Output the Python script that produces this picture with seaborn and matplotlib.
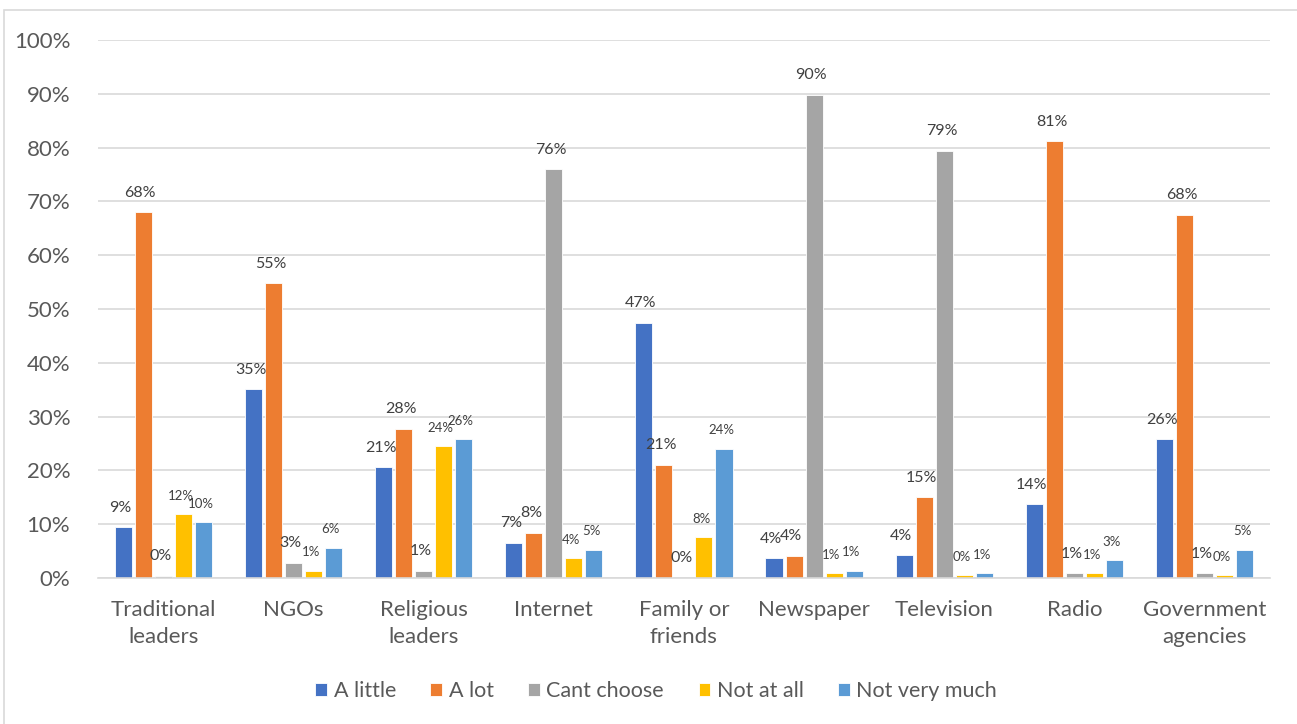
import pandas as pd
import matplotlib.pyplot as plt
import seaborn as sns
from matplotlib.patches import Rectangle

categories = ["Traditional\nleaders", "NGOs", "Religious\nleaders", "Internet",
              "Family or\nfriends", "Newspaper", "Television", "Radio",
              "Government\nagencies"]
series = ["A little", "A lot", "Cant choose", "Not at all", "Not very much"]

a_little = [9.4, 35.1, 20.6, 6.5, 47.4, 3.7, 4.2, 13.7, 25.8]
a_lot = [68.0, 54.8, 27.7, 8.4, 21.0, 4.1, 15.0, 81.2, 67.5]
cant_choose = [0.4, 2.8, 1.3, 76.0, 0.0, 89.8, 79.4, 0.9, 0.9]
not_at_all = [11.8, 1.3, 24.5, 3.7, 7.6, 0.9, 0.5, 0.9, 0.5]
not_very_much = [10.4, 5.6, 25.8, 5.2, 24.0, 1.3, 0.9, 3.3, 5.2]
labels = {
    "A little": ["9%", "35%", "21%", "7%", "47%", "4%", "4%", "14%", "26%"],
    "A lot": ["68%", "55%", "28%", "8%", "21%", "4%", "15%", "81%", "68%"],
    "Cant choose": ["0%", "3%", "1%", "76%", "0%", "90%", "79%", "1%", "1%"],
    "Not at all": ["12%", "1%", "24%", "4%", "8%", "1%", "0%", "1%", "0%"],
    "Not very much": ["10%", "6%", "26%", "5%", "24%", "1%", "1%", "3%", "5%"],
}

colors = ["#4472C4", "#ED7D31", "#A5A5A5", "#FFC000", "#5B9BD5"]

rows = []
for name, vals in zip(series, [a_little, a_lot, cant_choose, not_at_all, not_very_much]):
    for cat, v in zip(categories, vals):
        rows.append({"Source": cat, "Series": name, "Value": v})
df = pd.DataFrame(rows)

sns.set_style("white")
plt.rcParams["font.family"] = ["Lato", "DejaVu Sans"]

fig = plt.figure(figsize=(12.97, 7.24), dpi=100)
ax = fig.add_axes([0.0756, 0.2017, 0.9034, 0.7431])

sns.barplot(data=df, x="Source", y="Value", hue="Series", hue_order=series,
            palette=colors, saturation=1, width=0.77, gap=0.15, ax=ax,
            legend=True, edgecolor="white", linewidth=0.6)

for cont, name in zip(ax.containers, series):
    small = name in ("Not at all", "Not very much")
    for bar, txt in zip(cont, labels[name]):
        ax.annotate(txt, (bar.get_x() + bar.get_width() / 2, bar.get_height()),
                    xytext=(-2, 9), textcoords="offset points",
                    ha="center", va="bottom", color="#404040",
                    fontsize=9.5 if small else 11.5)

ax.set_ylim(0, 100)
ax.set_xlim(-0.5, len(categories) - 0.5)
ax.set_yticks(range(0, 101, 10))
ax.set_yticklabels([f"{t}%" for t in range(0, 101, 10)])
ax.yaxis.grid(True, color="#D9D9D9", linewidth=1.2)
ax.set_axisbelow(True)
for s in ["top", "right", "left"]:
    ax.spines[s].set_visible(False)
ax.spines["bottom"].set_color("#D9D9D9")
ax.spines["bottom"].set_linewidth(1.2)
ax.tick_params(axis="both", length=0, labelsize=16, colors="#595959")
ax.tick_params(axis="y", pad=20)
ax.tick_params(axis="x", pad=16)
for t in ax.get_xticklabels():
    t.set_linespacing(1.4)
ax.set_xlabel("")
ax.set_ylabel("")

handles, lbls = ax.get_legend_handles_labels()
ax.get_legend().remove()
fig.legend(handles, lbls, loc="center", bbox_to_anchor=(0.506, 0.045), ncol=5,
           frameon=False, fontsize=15.5, handlelength=0.55, handleheight=0.55,
           handletextpad=0.3, columnspacing=1.6, labelcolor="#595959")

fig.patches.append(Rectangle((4 / 1297, -0.1), 1.2, 1 - 10 / 724 + 0.1,
                             transform=fig.transFigure, fill=False,
                             edgecolor="#D9D9D9", linewidth=1.2))

fig.savefig("out.png", dpi=100)
